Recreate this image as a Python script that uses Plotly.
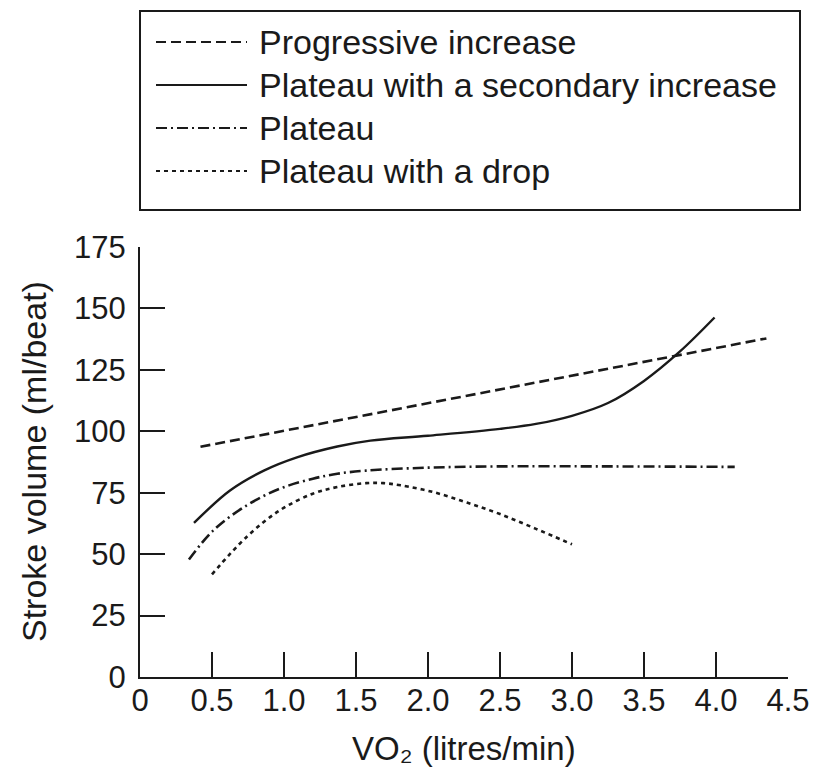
import plotly.graph_objects as go

# ---- data ----
progressive_x = [0.42, 4.35]
progressive_y = [93.7, 137.8]

secondary_x = [0.375, 0.625, 0.86, 1.09, 1.37, 1.6, 2.0, 2.5, 2.75, 3.0, 3.25, 3.5, 3.75, 3.99]
secondary_y = [62.7, 75.9, 84.0, 89.4, 93.8, 96.2, 98.2, 101.0, 103.0, 106.3, 111.5, 120.5, 132.5, 146.3]

plateau_x = [0.34, 0.51, 0.74, 0.97, 1.2, 1.37, 1.57, 2.0, 2.48, 3.3, 4.13]
plateau_y = [47.8, 59.7, 69.8, 76.6, 80.7, 82.7, 84.0, 85.2, 85.7, 85.7, 85.5]

drop_x = [0.50, 0.74, 0.97, 1.2, 1.37, 1.57, 1.69, 1.81, 2.04, 2.27, 2.5, 2.75, 3.0]
drop_y = [41.8, 57.0, 67.8, 74.6, 77.3, 78.9, 78.9, 78.0, 75.2, 71.0, 66.3, 60.3, 54.0]

series_names = ["Progressive increase", "Plateau with a secondary increase",
                "Plateau", "Plateau with a drop"]

x_ticks = [0, 0.5, 1.0, 1.5, 2.0, 2.5, 3.0, 3.5, 4.0, 4.5]
x_ticktext = ["0", "0.5", "1.0", "1.5", "2.0", "2.5", "3.0", "3.5", "4.0", "4.5"]
y_ticks = [0, 25, 50, 75, 100, 125, 150, 175]

x_title = "VO\u2082 (litres/min)"
y_title = "Stroke volume (ml/beat)"

# ---- styling ----
INK = "#1a1a1a"
FONT = "Liberation Sans"
dashes = ["10px,5px", "solid", "11px,4px,2px,4px", "4px,4px"]
widths = [2.6, 2.4, 2.6, 2.6]

W, H = 816, 773
ML, MR, MT, MB = 140, 28, 247, 96
PW, PH = W - ML - MR, H - MT - MB


def px_to_paper(px, py):
    return (px - ML) / PW, (H - MB - py) / PH


fig = go.Figure()
all_series = [(progressive_x, progressive_y), (secondary_x, secondary_y),
              (plateau_x, plateau_y), (drop_x, drop_y)]
for (xs, ys), name, d, w in zip(all_series, series_names, dashes, widths):
    fig.add_trace(go.Scatter(
        x=xs, y=ys, mode="lines", name=name,
        line=dict(color=INK, width=w, dash=d, shape="spline", smoothing=1.0),
        showlegend=False, hoverinfo="skip"))

# ---- legend box drawn as shapes + text ----
bx0, by1 = px_to_paper(140, 210)
bx1, by0 = px_to_paper(800, 11)
fig.add_shape(type="rect", xref="paper", yref="paper", x0=bx0, x1=bx1, y0=by1, y1=by0,
              line=dict(color=INK, width=2), fillcolor="rgba(0,0,0,0)")
rows_py = [42, 85, 128, 171]
for name, d, w, rpy in zip(series_names, dashes, widths, rows_py):
    lx0, ly = px_to_paper(156, rpy)
    lx1, _ = px_to_paper(247, rpy)
    fig.add_shape(type="line", xref="paper", yref="paper", x0=lx0, x1=lx1, y0=ly, y1=ly,
                  line=dict(color=INK, width=w * 0.8, dash=d))
    tx, _ = px_to_paper(257, rpy)
    fig.add_annotation(xref="paper", yref="paper", x=tx, y=ly, text=name,
                       showarrow=False, xanchor="left", yanchor="middle",
                       font=dict(family=FONT, size=34, color=INK))

# ---- axis titles ----
ytx, yty = px_to_paper(34, 462)
fig.add_annotation(xref="paper", yref="paper", x=ytx, y=yty, text=y_title,
                   textangle=-90, showarrow=False, xanchor="center", yanchor="middle",
                   font=dict(family=FONT, size=34, color=INK))
xtx, xty = px_to_paper(464, 748)
fig.add_annotation(xref="paper", yref="paper", x=xtx, y=xty, text=x_title,
                   showarrow=False, xanchor="center", yanchor="middle",
                   font=dict(family=FONT, size=33, color=INK))

axis_common = dict(showline=True, linecolor=INK, linewidth=2, ticks="inside",
                   ticklen=25, tickwidth=2, tickcolor=INK, showgrid=False,
                   zeroline=False, mirror=False,
                   tickfont=dict(family=FONT, size=31, color=INK))

fig.update_layout(
    width=W, height=H,
    margin=dict(l=ML, r=MR, t=MT, b=MB, autoexpand=False),
    paper_bgcolor="white", plot_bgcolor="white",
    xaxis=dict(range=[0, 4.5], tickvals=x_ticks, ticktext=x_ticktext,
               ticklabelstandoff=-5, **axis_common),
    yaxis=dict(range=[0, 175], tickvals=y_ticks,
               ticklabelstandoff=6, **axis_common),
    showlegend=False,
)

fig.write_html("out.html", config={"displayModeBar": False},
               post_script="document.body.style.margin='0px';")
